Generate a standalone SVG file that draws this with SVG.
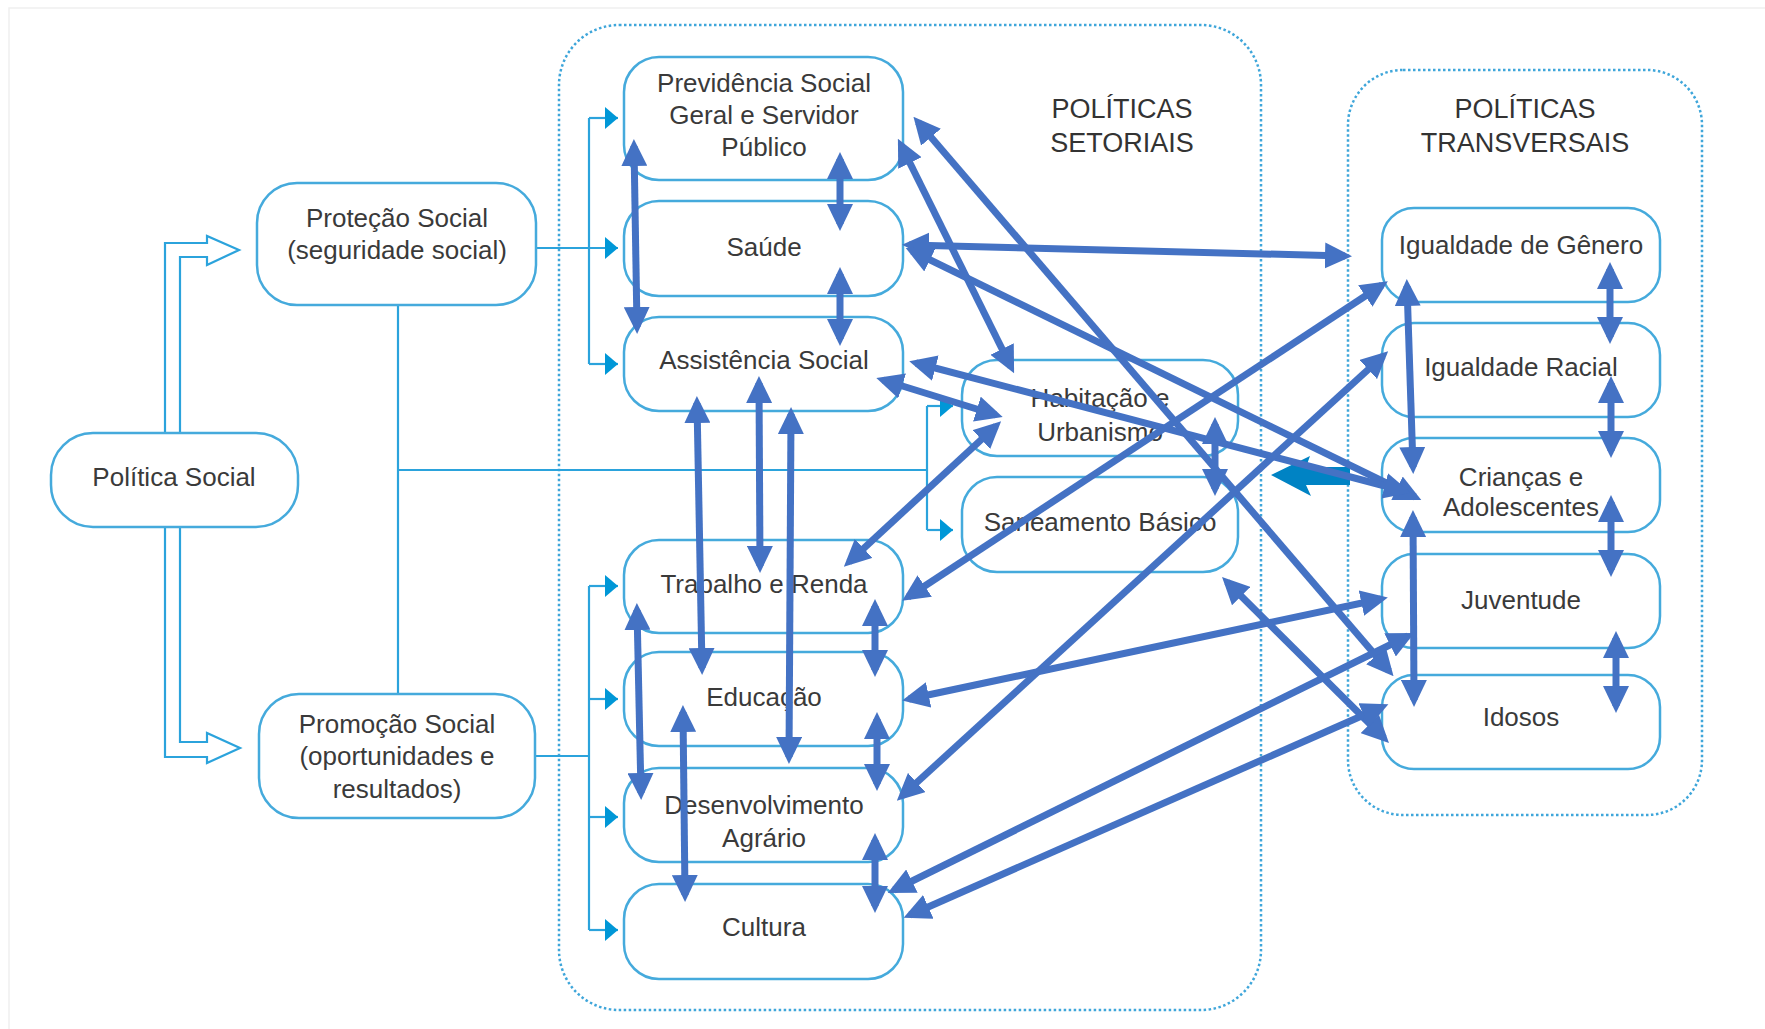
<svg xmlns="http://www.w3.org/2000/svg" width="1765" height="1029" viewBox="0 0 1765 1029">
<style>
.bg{fill:#ffffff}
.frame{fill:none;stroke:#f0f0f0;stroke-width:1.5}
.cont{fill:none;stroke:#3fa6da;stroke-width:2.5;stroke-dasharray:2.5 2.5}
.box{fill:#ffffff;stroke:#45aadc;stroke-width:2.5}
.thin{fill:none;stroke:#2ba3dc;stroke-width:2.2}
.tick{fill:none;stroke:#2ba3dc;stroke-width:2.2;marker-end:url(#sa)}
.hollow{fill:#ffffff;stroke:#2ba3dc;stroke-width:2.2;stroke-linejoin:miter}
.t{font-family:"Liberation Sans",Arial,sans-serif;font-size:26px;fill:#3a3a3a;text-anchor:middle}
.h{font-family:"Liberation Sans",Arial,sans-serif;font-size:27px;fill:#333333;text-anchor:middle}
.ba{fill:none;stroke:#4472c4;stroke-width:7;marker-start:url(#ah);marker-end:url(#ah)}
</style>
<defs>
<marker id="ah" markerUnits="userSpaceOnUse" viewBox="0 0 27 26" markerWidth="27" markerHeight="26" refX="20" refY="13" orient="auto-start-reverse">
<path d="M0,0 L27,13 L0,26 z" fill="#4472c4"/>
</marker>
<marker id="sa" markerUnits="userSpaceOnUse" viewBox="0 0 13 22" markerWidth="13" markerHeight="22" refX="13" refY="11" orient="auto">
<path d="M0,0 L13,11 L0,22 z" fill="#0097d7"/>
</marker>
</defs>
<rect class="bg" x="0" y="0" width="1765" height="1029"/>
<path class="frame" d="M9,1029 V8 H1765"/>

<g id="containers">
<rect id="setoriais" class="cont" x="559" y="25" width="702" height="985" rx="60"/>
<rect id="transversais" class="cont" x="1348" y="70" width="354" height="745" rx="55"/>
<text class="h" x="1122" y="118">POLÍTICAS</text>
<text class="h" x="1122" y="152">SETORIAIS</text>
<text class="h" x="1525" y="118">POLÍTICAS</text>
<text class="h" x="1525" y="152">TRANSVERSAIS</text>
</g>

<g id="structure-connectors">
<path class="thin" d="M589,118 V364"/>
<path class="tick" d="M589,118 H618"/>
<path class="tick" d="M536,248 H618"/>
<path class="tick" d="M589,364 H618"/>
<path class="thin" d="M589,586 V930"/>
<path class="thin" d="M535,756 H589"/>
<path class="tick" d="M589,586 H618"/>
<path class="tick" d="M589,699 H618"/>
<path class="tick" d="M589,817 H618"/>
<path class="tick" d="M589,930 H618"/>
<path class="thin" d="M398,305 V694"/>
<path class="thin" d="M398,470 H927"/>
<path class="thin" d="M927,406 V530"/>
<path class="tick" d="M927,406 H953"/>
<path class="tick" d="M927,530 H953"/>
<path class="hollow" d="M165,432 V243 H207 V236 L239,250 L207,265 V257 H180 V432"/>
<path class="hollow" d="M165,527 V757 H207 V763 L240,748 L207,733 V742 H180 V527"/>
<polygon points="1271,475 1310,456 1306,467 1350,467 1350,485 1306,485 1311,496" fill="#0083c4"/>
</g>

<g id="politica-social"><rect class="box" x="51" y="433" width="247" height="94" rx="42"/><text class="t" x="174" y="486">Política Social</text></g>
<g id="protecao-social"><rect class="box" x="257" y="183" width="279" height="122" rx="40"/><text class="t" x="397" y="227">Proteção Social</text><text class="t" x="397" y="259">(seguridade social)</text></g>
<g id="promocao-social"><rect class="box" x="259" y="694" width="276" height="124" rx="40"/><text class="t" x="397" y="733">Promoção Social</text><text class="t" x="397" y="765">(oportunidades e</text><text class="t" x="397" y="798">resultados)</text></g>

<g id="previdencia"><rect class="box" x="624" y="57" width="279" height="123" rx="35"/><text class="t" x="764" y="92">Previdência Social</text><text class="t" x="764" y="124">Geral e Servidor</text><text class="t" x="764" y="156">Público</text></g>
<g id="saude"><rect class="box" x="624" y="201" width="279" height="95" rx="35"/><text class="t" x="764" y="256">Saúde</text></g>
<g id="assistencia"><rect class="box" x="624" y="317" width="279" height="94" rx="35"/><text class="t" x="764" y="369">Assistência Social</text></g>
<g id="trabalho"><rect class="box" x="624" y="540" width="279" height="93" rx="35"/><text class="t" x="764" y="593">Trabalho e Renda</text></g>
<g id="educacao"><rect class="box" x="624" y="652" width="279" height="94" rx="35"/><text class="t" x="764" y="706">Educação</text></g>
<g id="desenvolvimento"><rect class="box" x="624" y="768" width="279" height="94" rx="35"/><text class="t" x="764" y="814">Desenvolvimento</text><text class="t" x="764" y="847">Agrário</text></g>
<g id="cultura"><rect class="box" x="624" y="884" width="279" height="95" rx="35"/><text class="t" x="764" y="936">Cultura</text></g>
<g id="habitacao"><rect class="box" x="962" y="360" width="276" height="96" rx="35"/><text class="t" x="1100" y="407">Habitação e</text><text class="t" x="1100" y="441">Urbanismo</text></g>
<g id="saneamento"><rect class="box" x="962" y="477" width="276" height="95" rx="35"/><text class="t" x="1100" y="531">Saneamento Básico</text></g>

<g id="genero"><rect class="box" x="1382" y="208" width="278" height="94" rx="32"/><text class="t" x="1521" y="254">Igualdade de Gênero</text></g>
<g id="racial"><rect class="box" x="1382" y="323" width="278" height="94" rx="32"/><text class="t" x="1521" y="376">Igualdade Racial</text></g>
<g id="criancas"><rect class="box" x="1382" y="438" width="278" height="94" rx="32"/><text class="t" x="1521" y="486">Crianças e</text><text class="t" x="1521" y="516">Adolescentes</text></g>
<g id="juventude"><rect class="box" x="1382" y="554" width="278" height="94" rx="32"/><text class="t" x="1521" y="609">Juventude</text></g>
<g id="idosos"><rect class="box" x="1382" y="675" width="278" height="94" rx="32"/><text class="t" x="1521" y="726">Idosos</text></g>

<g id="relation-arrows">
<line class="ba" x1="634" y1="146" x2="637" y2="327"/>
<line class="ba" x1="840" y1="159" x2="840" y2="224"/>
<line class="ba" x1="840" y1="274" x2="840" y2="339"/>
<line class="ba" x1="918" y1="122" x2="1389" y2="671"/>
<line class="ba" x1="901" y1="145" x2="1011" y2="367"/>
<line class="ba" x1="909" y1="245" x2="1345" y2="256"/>
<line class="ba" x1="912" y1="251" x2="1415" y2="497"/>
<line class="ba" x1="916" y1="363" x2="1404" y2="491"/>
<line class="ba" x1="883" y1="380" x2="996" y2="415"/>
<line class="ba" x1="849" y1="562" x2="996" y2="426"/>
<line class="ba" x1="908" y1="597" x2="1382" y2="285"/>
<line class="ba" x1="902" y1="796" x2="1383" y2="356"/>
<line class="ba" x1="909" y1="699" x2="1381" y2="599"/>
<line class="ba" x1="1227" y1="582" x2="1384" y2="738"/>
<line class="ba" x1="894" y1="890" x2="1408" y2="636"/>
<line class="ba" x1="910" y1="915" x2="1382" y2="707"/>
<line class="ba" x1="637" y1="610" x2="641" y2="793"/>
<line class="ba" x1="697" y1="403" x2="702" y2="668"/>
<line class="ba" x1="759" y1="383" x2="760" y2="566"/>
<line class="ba" x1="791" y1="414" x2="789" y2="757"/>
<line class="ba" x1="683" y1="712" x2="685" y2="895"/>
<line class="ba" x1="875" y1="606" x2="875" y2="670"/>
<line class="ba" x1="877" y1="719" x2="877" y2="784"/>
<line class="ba" x1="875" y1="840" x2="875" y2="906"/>
<line class="ba" x1="1215" y1="424" x2="1215" y2="489"/>
<line class="ba" x1="1407" y1="286" x2="1413" y2="467"/>
<line class="ba" x1="1610" y1="269" x2="1610" y2="337"/>
<line class="ba" x1="1611" y1="383" x2="1611" y2="451"/>
<line class="ba" x1="1611" y1="502" x2="1611" y2="570"/>
<line class="ba" x1="1616" y1="638" x2="1616" y2="706"/>
<line class="ba" x1="1413" y1="517" x2="1414" y2="700"/>
</g>
</svg>
